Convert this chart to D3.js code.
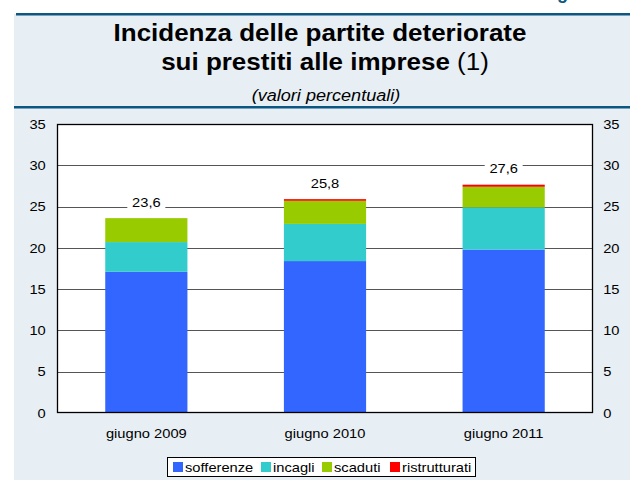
<!DOCTYPE html>
<html>
<head>
<meta charset="utf-8">
<script src="https://cdn.jsdelivr.net/npm/d3@7"></script>
<style>
  body { margin: 0; background: #fff; }
  svg { display: block; font-family: "Liberation Sans", Arial, sans-serif; }
</style>
</head>
<body>
<div id="chart"></div>
<script>
// Data
const periods = ["giugno 2009", "giugno 2010", "giugno 2011"];
const series = ["sofferenze", "incagli", "scaduti", "ristrutturati"];
const sofferenze = [17.1, 18.4, 19.8];
const incagli = [3.6, 4.5, 5.1];
const scaduti = [2.9, 2.8, 2.5];
const ristrutturati = [0.0, 0.2, 0.25];
const totals = ["23,6", "25,8", "27,6"];
const yTicks = [0, 5, 10, 15, 20, 25, 30, 35];
const colors = ["#3366ff", "#33cccc", "#99cc00", "#ff0000"];

const W = 630, H = 480;
const margin = { top: 124, right: 37, bottom: 67, left: 57 };
const width = W - margin.left - margin.right;
const height = H - margin.top - margin.bottom;
const sx = 1.13; // the original text is slightly wide

const svg = d3.select("#chart")
    .append("svg")
    .attr("width", W)
    .attr("height", H);

// Background panel
svg.append("rect")
    .attr("x", 14).attr("y", 14)
    .attr("width", W - 14).attr("height", H - 14)
    .attr("fill", "#e7eff5");

// Header lines
svg.append("rect").attr("x", 16).attr("y", 13).attr("width", W - 16).attr("height", 2.5).attr("fill", "#0b5781");
svg.append("rect").attr("x", 14).attr("y", 106).attr("width", W - 14).attr("height", 2.5).attr("fill", "#0b5781");

// Cut-off figure label at the very top
svg.append("text")
    .attr("x", 541).attr("y", -1)
    .attr("fill", "#0b5781")
    .style("font-size", "18px")
    .style("font-weight", "bold")
    .text("Figura 1");

// Title
svg.append("text")
    .attr("transform", `translate(320,41) scale(${sx},1)`)
    .attr("text-anchor", "middle")
    .style("font-size", "23px").style("font-weight", "bold")
    .text("Incidenza delle partite deteriorate");
const t2 = svg.append("text")
    .attr("transform", `translate(325,70) scale(${sx},1)`)
    .attr("text-anchor", "middle")
    .style("font-size", "23px");
t2.append("tspan").style("font-weight", "bold").text("sui prestiti alle imprese ");
t2.append("tspan").text("(1)");

svg.append("text")
    .attr("transform", `translate(326,101) scale(${sx},1)`)
    .attr("text-anchor", "middle")
    .style("font-size", "16px")
    .style("font-style", "italic")
    .text("(valori percentuali)");

const g = svg.append("g")
    .attr("transform", `translate(${margin.left},${margin.top})`);

const x = d3.scaleBand()
    .domain(periods)
    .range([0, width])
    .paddingInner(0.54)
    .paddingOuter(0.27);

const y = d3.scaleLinear()
    .domain([0, 35])
    .range([height, 0]);

// Plot area
g.append("rect")
    .attr("width", width).attr("height", height)
    .attr("fill", "#fff");

// Gridlines
g.append("g")
    .selectAll("line")
    .data(yTicks.slice(1, -1))
    .join("line")
    .attr("x1", 0).attr("x2", width)
    .attr("y1", d => Math.round(y(d)) + 0.5)
    .attr("y2", d => Math.round(y(d)) + 0.5)
    .attr("stroke", "#555")
    .attr("stroke-width", 1);

// Stacked bars
const table = periods.map((p, i) => ({
    period: p,
    sofferenze: sofferenze[i],
    incagli: incagli[i],
    scaduti: scaduti[i],
    ristrutturati: ristrutturati[i]
}));
const stacked = d3.stack().keys(series)(table);

g.append("g")
    .selectAll("g")
    .data(stacked)
    .join("g")
    .attr("fill", (d, i) => colors[i])
    .selectAll("rect")
    .data(d => d)
    .join("rect")
    .attr("x", d => x(d.data.period))
    .attr("width", x.bandwidth())
    .attr("y", d => y(d[1]))
    .attr("height", d => y(d[0]) - y(d[1]));

// Total labels with white background
const topLayer = stacked[stacked.length - 1];
const labels = g.append("g")
    .selectAll("g")
    .data(topLayer)
    .join("g")
    .attr("transform", (d, i) => `translate(${x(periods[i]) + x.bandwidth() / 2},${y(d[1]) - 16})`);
labels.append("rect")
    .attr("x", -19).attr("y", -9)
    .attr("width", 38).attr("height", 18)
    .attr("fill", "#fff");
labels.append("text")
    .attr("transform", `scale(${sx},1)`)
    .attr("text-anchor", "middle")
    .attr("dy", "0.35em")
    .style("font-size", "13px")
    .text((d, i) => totals[i]);

// Frame
g.append("rect")
    .attr("x", 0.5).attr("y", 0.5)
    .attr("width", width - 1).attr("height", height - 1)
    .attr("fill", "none")
    .attr("stroke", "#000")
    .attr("stroke-width", 1.3);

// Axes (labels only)
const yLeft = g.append("g")
    .call(d3.axisLeft(y).tickValues(yTicks).tickSize(0).tickPadding(10));
const yRight = g.append("g")
    .attr("transform", `translate(${width},0)`)
    .call(d3.axisRight(y).tickValues(yTicks).tickSize(0).tickPadding(9));
const xAxis = g.append("g")
    .attr("transform", `translate(0,${height})`)
    .call(d3.axisBottom(x).tickSize(0).tickPadding(16));
[yLeft, yRight, xAxis].forEach(a => {
    a.select(".domain").remove();
    a.selectAll("text")
        .attr("fill", "#000")
        .attr("transform", `scale(${sx},1)`)
        .style("font-size", "13px")
        .style("font-family", "'Liberation Sans', Arial, sans-serif");
});

// Legend
const legend = svg.append("g").attr("transform", "translate(167,457)");
legend.append("rect")
    .attr("x", 0.5).attr("y", 0.5)
    .attr("width", 308).attr("height", 19)
    .attr("fill", "#fff")
    .attr("stroke", "#000");
const itemX = [6, 94, 155, 223];
const items = legend.selectAll("g.item")
    .data(series)
    .join("g")
    .attr("class", "item")
    .attr("transform", (d, i) => `translate(${itemX[i]},0)`);
items.append("rect")
    .attr("x", 0).attr("y", 5)
    .attr("width", 10).attr("height", 10)
    .attr("fill", (d, i) => colors[i]);
items.append("text")
    .attr("transform", `translate(12,15) scale(${sx},1)`)
    .style("font-size", "13px")
    .text(d => d);
</script>
</body>
</html>
